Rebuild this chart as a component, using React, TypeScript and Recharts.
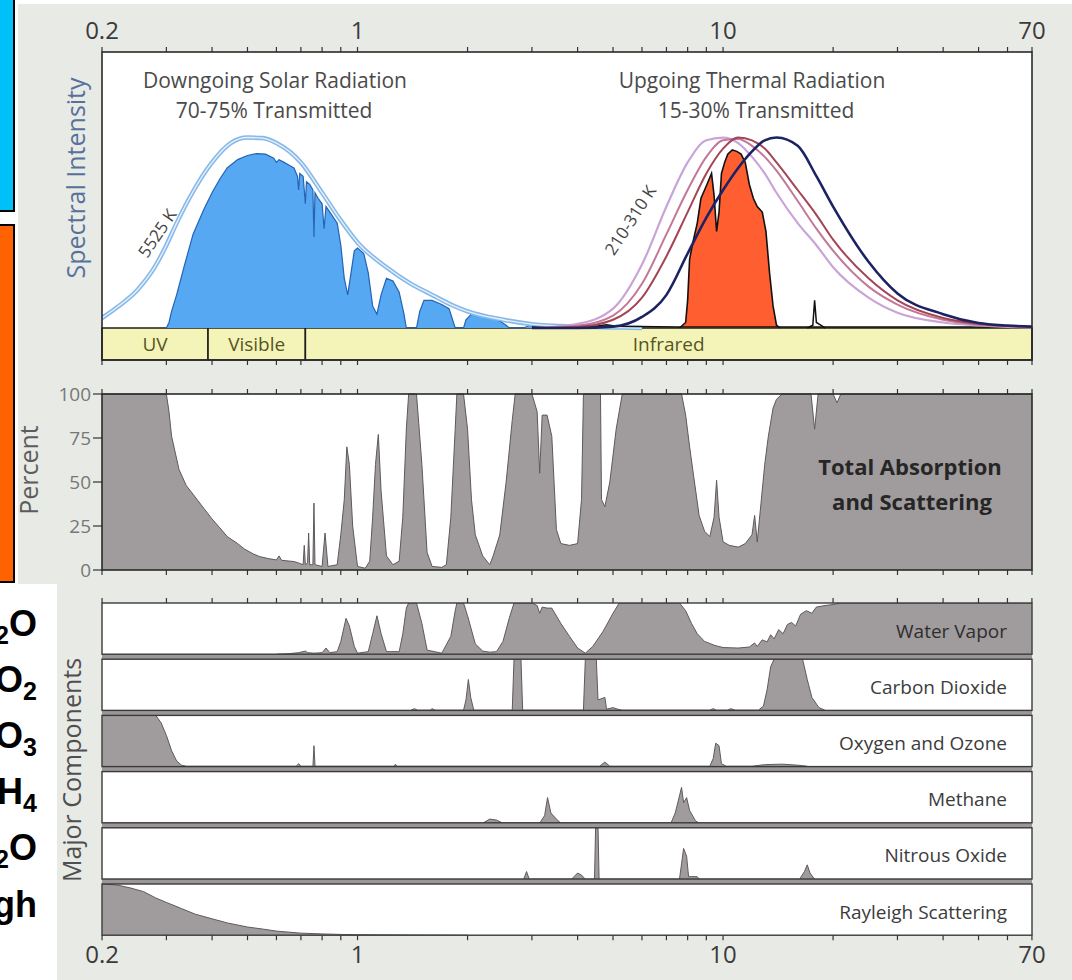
import React from 'react';
import { ComposedChart, Area, Line, XAxis, YAxis, ReferenceArea } from 'recharts';

const FONT = '"Open Sans", "DejaVu Sans", sans-serif';

// ---------- axis ticks ----------
const majorTicks = [0.2, 1, 10, 70];
const allTicks = [0.2, 0.3, 0.4, 0.5, 0.6, 0.7, 0.8, 0.9, 1, 2, 3, 4, 5, 6, 7, 8, 9, 10, 20, 30, 40, 50, 60, 70];
const percentTicks = [0, 25, 50, 75, 100];

// ---------- spectral bands ----------
const bands = [
  { name: 'UV', from: 0.2, to: 0.39 },
  { name: 'Visible', from: 0.39, to: 0.72 },
  { name: 'Infrared', from: 0.72, to: 70 },
];

// ---------- top panel: spectral intensity ----------
const blackbody5525: [number, number][] = [
  [0.2, 0.036], [0.22, 0.075], [0.25, 0.138], [0.28, 0.225], [0.3, 0.3], [0.32, 0.38], [0.35, 0.48],
  [0.4, 0.6], [0.45, 0.67], [0.5, 0.69], [0.55, 0.688], [0.6, 0.67], [0.7, 0.6], [0.8, 0.49], [0.9, 0.39],
  [1.0, 0.31], [1.2, 0.22], [1.4, 0.16], [1.6, 0.12], [1.8, 0.085], [2.0, 0.06], [2.5, 0.03], [3, 0.014],
  [4, 0.005], [5, 0.002], [6, 0],
];

const solarTransmitted: [number, number][] = [
  [0.3, 0], [0.305, 0.02], [0.31, 0.06], [0.32, 0.12], [0.335, 0.22], [0.355, 0.34], [0.38, 0.43], [0.4, 0.49],
  [0.42, 0.54], [0.44, 0.58], [0.47, 0.61], [0.5, 0.625], [0.53, 0.632], [0.56, 0.63], [0.59, 0.615], [0.6, 0.6],
  [0.61, 0.61], [0.63, 0.6], [0.65, 0.59], [0.67, 0.58], [0.685, 0.55], [0.69, 0.5], [0.695, 0.56], [0.71, 0.55],
  [0.72, 0.45], [0.725, 0.53], [0.74, 0.52], [0.755, 0.5], [0.76, 0.33], [0.765, 0.49], [0.78, 0.47], [0.8, 0.45],
  [0.81, 0.36], [0.82, 0.44], [0.85, 0.41], [0.88, 0.38], [0.9, 0.3], [0.92, 0.18], [0.94, 0.12], [0.96, 0.2],
  [0.98, 0.28], [1.0, 0.29], [1.04, 0.27], [1.07, 0.2], [1.1, 0.08], [1.13, 0.05], [1.16, 0.12], [1.2, 0.18],
  [1.25, 0.17], [1.3, 0.13], [1.34, 0.05], [1.36, 0], [1.45, 0], [1.48, 0.06], [1.52, 0.1], [1.6, 0.1],
  [1.7, 0.085], [1.78, 0.07], [1.82, 0.03], [1.85, 0], [1.95, 0], [1.98, 0.03], [2.05, 0.05], [2.15, 0.05],
  [2.3, 0.04], [2.45, 0.025], [2.55, 0.01], [2.6, 0], [2.85, 0], [2.95, 0.01], [3.2, 0.012], [3.5, 0.008],
  [4, 0.004], [5, 0.002], [6, 0],
];

const thermalWl = [3, 4, 5, 6, 7, 8, 9, 10, 11, 12, 13, 14, 16, 18, 20, 25, 30, 40, 50, 60, 70];
const thermal310 = [0, 0.015, 0.07, 0.23, 0.44, 0.6, 0.68, 0.69, 0.67, 0.62, 0.56, 0.49, 0.38, 0.3, 0.22, 0.11, 0.055, 0.02, 0.009, 0.004, 0.002];
const thermal280 = [0, 0.008, 0.045, 0.16, 0.34, 0.5, 0.62, 0.68, 0.685, 0.66, 0.62, 0.57, 0.46, 0.36, 0.28, 0.15, 0.085, 0.03, 0.012, 0.006, 0.003];
const thermal260 = [0, 0.004, 0.03, 0.11, 0.26, 0.42, 0.56, 0.65, 0.69, 0.68, 0.65, 0.6, 0.5, 0.41, 0.32, 0.18, 0.1, 0.036, 0.015, 0.007, 0.004];
const thermal210 = [0, 0, 0.005, 0.04, 0.12, 0.27, 0.4, 0.5, 0.58, 0.64, 0.68, 0.69, 0.66, 0.55, 0.44, 0.24, 0.125, 0.05, 0.018, 0.009, 0.005];

const thermalTransmitted: [number, number][] = [
  [7.6, 0], [7.9, 0.02], [8.0, 0.1], [8.1, 0.25], [8.3, 0.32], [8.5, 0.38], [8.7, 0.47], [8.9, 0.5], [9.1, 0.53],
  [9.3, 0.56], [9.45, 0.48], [9.6, 0.35], [9.75, 0.42], [9.9, 0.56], [10.1, 0.6], [10.3, 0.63], [10.6, 0.645],
  [10.9, 0.64], [11.2, 0.63], [11.5, 0.6], [11.8, 0.52], [12.1, 0.47], [12.4, 0.44], [12.8, 0.42], [13.1, 0.35],
  [13.4, 0.2], [13.7, 0.08], [14, 0.01], [14.3, 0],
];
const thermalSpike: [number, number][] = [[17, 0], [17.6, 0.01], [17.8, 0.1], [18, 0.02], [18.5, 0.01], [19, 0]];
const thermalBaseline: [number, number][] = [[3, 0.004], [4.5, 0.006], [4.8, 0.012], [5.1, 0.006], [7.6, 0.004], [14.3, 0.004], [70, 0.004]];

// ---------- middle panel: total absorption (percent) ----------
const totalAbsorption: [number, number][] = [
  [0.2, 100], [0.3, 100], [0.305, 90], [0.31, 76], [0.325, 57], [0.34, 48], [0.355, 43], [0.38, 35], [0.4, 29],
  [0.42, 24], [0.44, 19], [0.47, 15], [0.49, 12], [0.52, 9], [0.54, 7.6], [0.57, 6.5], [0.6, 5.7], [0.61, 8],
  [0.62, 5.5], [0.67, 4.8], [0.69, 4], [0.71, 3], [0.715, 14], [0.72, 3], [0.73, 4], [0.735, 21], [0.74, 3],
  [0.755, 3], [0.76, 38], [0.765, 3], [0.8, 2], [0.815, 21], [0.83, 2], [0.88, 3], [0.9, 20], [0.92, 40],
  [0.935, 70], [0.95, 60], [0.97, 25], [1.0, 2], [1.05, 1], [1.08, 5], [1.1, 30], [1.12, 60], [1.14, 77],
  [1.16, 45], [1.2, 8], [1.25, 3], [1.3, 5], [1.33, 30], [1.36, 80], [1.38, 100], [1.45, 100], [1.5, 60],
  [1.55, 10], [1.6, 2], [1.7, 1.5], [1.75, 3], [1.8, 30], [1.85, 80], [1.87, 100], [1.95, 100], [2.0, 80],
  [2.05, 40], [2.1, 20], [2.2, 8], [2.3, 3], [2.35, 8], [2.45, 20], [2.55, 50], [2.65, 85], [2.7, 100],
  [3.0, 100], [3.1, 90], [3.15, 55], [3.2, 88], [3.3, 88], [3.4, 76], [3.5, 23], [3.6, 15], [3.8, 14],
  [4.0, 15], [4.1, 40], [4.15, 100], [4.62, 100], [4.65, 40], [4.75, 36], [4.9, 50], [5.1, 80], [5.3, 100],
  [7.7, 100], [7.9, 88], [8.1, 70], [8.3, 54], [8.6, 31], [8.9, 22], [9.2, 19], [9.45, 30], [9.6, 51],
  [9.75, 30], [10.0, 16], [10.4, 14], [11.0, 13], [11.5, 15], [12.0, 20], [12.2, 31], [12.4, 16], [12.7, 38],
  [13.0, 60], [13.3, 76], [13.7, 92], [14.0, 97], [14.5, 100], [17.4, 100], [17.8, 80], [18.2, 100],
  [20, 100], [20.5, 95], [21, 100], [70, 100],
];

// ---------- bottom strips: major components (percent) ----------
const waterVapor: [number, number][] = [
  [0.6, 0], [0.65, 1], [0.69, 3], [0.72, 6], [0.73, 3], [0.76, 2], [0.8, 3], [0.82, 12], [0.84, 3], [0.88, 5],
  [0.9, 25], [0.93, 70], [0.95, 55], [0.98, 15], [1.0, 2], [1.07, 5], [1.1, 40], [1.13, 75], [1.16, 40],
  [1.2, 5], [1.3, 5], [1.33, 40], [1.36, 90], [1.38, 100], [1.45, 100], [1.5, 60], [1.55, 8], [1.7, 2],
  [1.8, 35], [1.85, 85], [1.87, 100], [1.95, 100], [2.0, 75], [2.1, 20], [2.2, 6], [2.3, 4], [2.4, 5],
  [2.5, 25], [2.6, 70], [2.68, 100], [3.0, 100], [3.1, 95], [3.15, 80], [3.2, 92], [3.3, 90], [3.4, 90],
  [3.6, 60], [3.8, 35], [4.0, 12], [4.2, 2], [4.4, 15], [4.7, 45], [5.0, 80], [5.2, 100], [7.6, 100],
  [7.9, 85], [8.2, 60], [8.5, 40], [8.9, 25], [9.5, 17], [10, 13], [11, 12], [11.8, 14], [12.2, 22],
  [12.4, 15], [12.8, 28], [13.2, 24], [13.5, 38], [13.8, 30], [14.2, 48], [14.6, 40], [15, 58], [15.4, 62],
  [15.8, 55], [16.3, 78], [16.9, 85], [17.5, 80], [18, 92], [19, 95], [20, 97], [21, 100], [70, 100],
];
const carbonDioxide: [number, number][] = [
  [1.4, 0], [1.43, 3], [1.46, 0], [1.58, 0], [1.6, 3], [1.63, 0], [1.95, 0], [1.98, 20], [2.01, 60], [2.04, 25],
  [2.08, 0], [2.65, 0], [2.68, 100], [2.8, 100], [2.83, 0], [4.15, 0], [4.2, 100], [4.5, 100], [4.55, 20],
  [4.75, 25], [4.8, 2], [5.0, 5], [5.15, 2], [5.3, 0], [9.2, 0], [9.4, 3], [9.6, 0], [10.3, 0], [10.5, 3],
  [10.8, 0], [12.5, 0], [12.9, 8], [13.2, 40], [13.5, 85], [13.8, 100], [16.5, 100], [17.0, 60], [17.5, 25],
  [18.3, 5], [19, 0],
];
const oxygenOzone: [number, number][] = [
  [0.2, 100], [0.28, 100], [0.29, 85], [0.3, 60], [0.31, 30], [0.32, 10], [0.33, 2], [0.34, 0], [0.68, 0],
  [0.69, 5], [0.7, 0], [0.755, 0], [0.76, 40], [0.765, 0], [1.26, 0], [1.27, 4], [1.28, 0], [4.6, 0],
  [4.75, 8], [4.9, 0], [9.2, 0], [9.4, 15], [9.55, 45], [9.75, 40], [9.9, 5], [10.2, 0], [12, 0], [13, 3],
  [14.5, 4], [16, 2], [17, 0],
];
const methane: [number, number][] = [
  [2.2, 0], [2.3, 8], [2.4, 6], [2.5, 0], [3.15, 0], [3.25, 15], [3.31, 50], [3.38, 20], [3.5, 8], [3.6, 0],
  [7.2, 0], [7.4, 20], [7.55, 45], [7.7, 70], [7.8, 40], [7.95, 50], [8.1, 25], [8.4, 5], [8.6, 0],
];
const nitrousOxide: [number, number][] = [
  [2.85, 0], [2.9, 15], [2.95, 0], [3.85, 0], [4.0, 12], [4.1, 8], [4.2, 0], [4.45, 0], [4.48, 100], [4.55, 100],
  [4.58, 0], [7.6, 0], [7.7, 30], [7.8, 60], [7.95, 45], [8.05, 5], [8.5, 5], [8.6, 0], [16.2, 0], [16.7, 15],
  [17, 28], [17.3, 12], [17.8, 0],
];
const rayleigh: [number, number][] = [
  [0.2, 100], [0.22, 98], [0.24, 92], [0.26, 85], [0.28, 73], [0.3, 64], [0.33, 52], [0.36, 41], [0.4, 32],
  [0.44, 24], [0.5, 16], [0.55, 12], [0.6, 8], [0.7, 4], [0.8, 2.5], [0.9, 1.5], [1, 1], [1.5, 0.3], [2, 0],
];

const strips = [
  { label: 'Water Vapor', data: waterVapor },
  { label: 'Carbon Dioxide', data: carbonDioxide },
  { label: 'Oxygen and Ozone', data: oxygenOzone },
  { label: 'Methane', data: methane },
  { label: 'Nitrous Oxide', data: nitrousOxide },
  { label: 'Rayleigh Scattering', data: rayleigh },
];

const leftLabels = [
  { main: 'H', sub: '2', tail: 'O' },
  { main: 'CO', sub: '2', tail: '' },
  { main: 'O', sub: '3', tail: '' },
  { main: 'CH', sub: '4', tail: '' },
  { main: 'N', sub: '2', tail: 'O' },
  { main: 'Rayleigh', sub: '', tail: '' },
];

// ---------- helpers ----------
const pts = (arr: [number, number][]) => arr.map(([x, y]) => ({ x, y }));
const grid = (wl: number[], v: number[]) => wl.map((x, i) => ({ x, y: v[i] }));
const fmtMajor = (v: number) => (majorTicks.includes(v) ? String(v) : '');
const fmtNone = () => '';

// layout
const W = 1072;
const PL = 102;
const PR = 1032;
const TOP_Y = 52;
const BASE_Y = 328;
const BAND_Y = 360;
const MID_TOP = 394;
const MID_BOT = 570;
const STRIP_TOP = 603;
const STRIP_H = 51.2;
const STRIP_GAP = 5;
const stripTop = (i: number) => STRIP_TOP + i * (STRIP_H + STRIP_GAP);
const Y_MIN = -(BAND_Y - BASE_Y) / (BASE_Y - TOP_Y);

const GRAY = '#a09b9c';
const tickStyle = { stroke: '#333', strokeWidth: 1.2 };

const xBase = {
  type: 'number' as const,
  dataKey: 'x',
  scale: 'log' as const,
  domain: [0.2, 70],
  allowDataOverflow: true,
  ticks: allTicks,
  interval: 0 as const,
  axisLine: false,
  tickLine: tickStyle,
  tickSize: 5,
};

function TopPanel() {
  return (
    <ComposedChart width={W} height={370} margin={{ top: 22, right: W - PR, bottom: 2, left: PL }}>
      <XAxis
        {...xBase}
        orientation="top"
        height={30}
        tickMargin={8}
        tickFormatter={fmtMajor}
        tick={{ fontSize: 24, fill: '#3a3a3a', fontFamily: FONT }}
      />
      <XAxis {...xBase} xAxisId="b" orientation="bottom" height={8} tickFormatter={fmtNone} tick={{ fontSize: 1 }} />
      <YAxis type="number" domain={[Y_MIN, 1]} hide allowDataOverflow />
      {bands.map((b) => (
        <ReferenceArea
          key={b.name}
          x1={b.from}
          x2={b.to}
          y1={Y_MIN}
          y2={0}
          fill="#f4f4b9"
          fillOpacity={1}
          stroke="#1e1e1e"
          strokeWidth={1.6}
          label={{ value: b.name, position: 'center', fill: '#56561f', fontSize: 19, fontFamily: FONT }}
        />
      ))}
      <Area
        data={pts(solarTransmitted)}
        dataKey="y"
        type="linear"
        baseValue={0}
        fill="#56a8f2"
        fillOpacity={1}
        stroke="#2463b5"
        strokeWidth={1.2}
        isAnimationActive={false}
      />
      <Line data={pts(blackbody5525)} dataKey="y" type="monotone" stroke="#86b8e8" strokeWidth={4.5} dot={false} isAnimationActive={false} />
      <Line data={pts(blackbody5525)} dataKey="y" type="monotone" stroke="#e4f1fc" strokeWidth={1.4} dot={false} isAnimationActive={false} />
      <Line data={pts(thermalBaseline)} dataKey="y" type="linear" stroke="#111" strokeWidth={1.5} dot={false} isAnimationActive={false} />
      <Area
        data={pts(thermalTransmitted)}
        dataKey="y"
        type="linear"
        baseValue={0}
        fill="#ff5f30"
        fillOpacity={1}
        stroke="#111"
        strokeWidth={1.6}
        isAnimationActive={false}
      />
      <Line data={pts(thermalSpike)} dataKey="y" type="linear" stroke="#111" strokeWidth={1.5} dot={false} isAnimationActive={false} />
      <Line data={grid(thermalWl, thermal310)} dataKey="y" type="monotone" stroke="#c9a4d8" strokeWidth={2.2} dot={false} isAnimationActive={false} />
      <Line data={grid(thermalWl, thermal280)} dataKey="y" type="monotone" stroke="#c27896" strokeWidth={2} dot={false} isAnimationActive={false} />
      <Line data={grid(thermalWl, thermal260)} dataKey="y" type="monotone" stroke="#a44556" strokeWidth={2} dot={false} isAnimationActive={false} />
      <Line data={grid(thermalWl, thermal210)} dataKey="y" type="monotone" stroke="#1c2363" strokeWidth={2.6} dot={false} isAnimationActive={false} />
    </ComposedChart>
  );
}

function MiddlePanel() {
  return (
    <ComposedChart width={W} height={220} margin={{ top: 16, right: W - PR - 10, bottom: 12, left: PL - 45 }}>
      <XAxis {...xBase} orientation="bottom" height={8} tickFormatter={fmtNone} tick={{ fontSize: 1 }} />
      <XAxis {...xBase} xAxisId="t" orientation="top" height={8} tickFormatter={fmtNone} tick={{ fontSize: 1 }} />
      <YAxis
        type="number"
        domain={[0, 100]}
        ticks={percentTicks}
        interval={0}
        width={45}
        tickSize={9}
        tickMargin={2}
        axisLine={false}
        tickLine={tickStyle}
        tick={{ fontSize: 19, fill: '#777', fontFamily: FONT }}
      />
      <YAxis
        yAxisId="r"
        orientation="right"
        type="number"
        domain={[0, 100]}
        ticks={percentTicks}
        interval={0}
        width={10}
        tickSize={5}
        axisLine={false}
        tickLine={tickStyle}
        tickFormatter={fmtNone}
        tick={{ fontSize: 1 }}
      />
      <Area
        data={pts(totalAbsorption)}
        dataKey="y"
        type="linear"
        baseValue={0}
        fill={GRAY}
        fillOpacity={1}
        stroke="#5e595a"
        strokeWidth={1}
        isAnimationActive={false}
      />
    </ComposedChart>
  );
}

function StripPanel({ index, data }: { index: number; data: [number, number][] }) {
  const first = index === 0;
  const last = index === strips.length - 1;
  const mTop = first ? 2 : 10;
  const axisTop = first ? 8 : 0;
  const bottomAxis = last ? 40 : 0;
  const mBottom = last ? 2 : 10;
  const height = mTop + axisTop + STRIP_H + bottomAxis + mBottom;
  return (
    <ComposedChart width={W} height={height} margin={{ top: mTop, right: W - PR, bottom: mBottom, left: PL }}>
      {last ? (
        <XAxis
          {...xBase}
          orientation="bottom"
          height={40}
          tickMargin={6}
          tickFormatter={fmtMajor}
          tick={{ fontSize: 24, fill: '#3a3a3a', fontFamily: FONT }}
        />
      ) : first ? (
        <XAxis {...xBase} orientation="top" height={8} tickFormatter={fmtNone} tick={{ fontSize: 1 }} />
      ) : (
        <XAxis {...xBase} hide />
      )}
      <YAxis type="number" domain={[0, 100]} hide allowDataOverflow />
      <Area
        data={pts(data)}
        dataKey="y"
        type="linear"
        baseValue={0}
        fill={GRAY}
        fillOpacity={1}
        stroke="#5e595a"
        strokeWidth={1}
        isAnimationActive={false}
      />
    </ComposedChart>
  );
}

export default function App() {
  const abs = (left: number, top: number): React.CSSProperties => ({ position: 'absolute', left, top });
  return (
    <div style={{ position: 'absolute', left: 0, top: 0, width: W, height: 980, background: '#fff', overflow: 'hidden', fontFamily: FONT }}>
      <div style={{ position: 'absolute', left: 18, top: 4, right: 0, bottom: 0, background: '#e8eae6' }} />
      <div style={{ position: 'absolute', left: 0, top: 584, width: 57, height: 396, background: '#fff' }} />
      <div style={{ position: 'absolute', left: 0, top: 0, width: 13, height: 210, background: '#00c0f8', borderRight: '2px solid #000', borderBottom: '2px solid #000' }} />
      <div style={{ position: 'absolute', left: 0, top: 224, width: 13, height: 355, background: '#ff6200', border: '2px solid #000', borderLeft: 'none' }} />

      {/* plot backgrounds */}
      <div style={{ position: 'absolute', left: PL, top: TOP_Y, width: PR - PL, height: BAND_Y - TOP_Y, background: '#fff' }} />
      <div style={{ position: 'absolute', left: PL, top: MID_TOP, width: PR - PL, height: MID_BOT - MID_TOP, background: '#fff' }} />
      <div style={{ position: 'absolute', left: PL, top: STRIP_TOP, width: PR - PL, height: stripTop(5) + STRIP_H - STRIP_TOP, background: '#fff' }} />

      <div style={abs(0, 0)}>
        <TopPanel />
      </div>
      <div style={abs(0, MID_TOP - 24)}>
        <MiddlePanel />
      </div>
      {strips.map((s, i) => (
        <div key={s.label} style={abs(0, stripTop(i) - 10)}>
          <StripPanel index={i} data={s.data} />
        </div>
      ))}

      <svg width={W} height={980} style={{ position: 'absolute', left: 0, top: 0, pointerEvents: 'none' }} fontFamily={FONT}>
        {/* frames */}
        <rect x={PL} y={TOP_Y} width={PR - PL} height={BAND_Y - TOP_Y} fill="none" stroke="#2a2a2a" strokeWidth={1.6} />
        <rect x={PL} y={MID_TOP} width={PR - PL} height={MID_BOT - MID_TOP} fill="none" stroke="#2a2a2a" strokeWidth={1.6} />
        {strips.slice(0, -1).map((s, i) => (
          <rect key={'sep' + i} x={PL} y={stripTop(i) + STRIP_H} width={PR - PL} height={STRIP_GAP} fill="#9b9798" />
        ))}
        {strips.map((s, i) => (
          <rect key={'fr' + i} x={PL} y={stripTop(i)} width={PR - PL} height={STRIP_H} fill="none" stroke="#3a3a3a" strokeWidth={1.4} />
        ))}

        {/* top panel annotations */}
        <g fill="#4a4a4a" fontSize={21} textAnchor="middle">
          <text x={275} y={88}>Downgoing Solar Radiation</text>
          <text x={274} y={118}>70-75% Transmitted</text>
          <text x={752} y={88}>Upgoing Thermal Radiation</text>
          <text x={756} y={118}>15-30% Transmitted</text>
        </g>
        <text x={157} y={233} fontSize={17} fill="#444" textAnchor="middle" dominantBaseline="central" transform="rotate(-56 157 233)">
          5525 K
        </text>
        <text x={630} y={220} fontSize={17} fill="#444" textAnchor="middle" dominantBaseline="central" transform="rotate(-57 630 220)">
          210-310 K
        </text>

        {/* middle panel annotation */}
        <g fill="#262626" fontSize={22} fontWeight="bold" textAnchor="middle">
          <text x={910} y={475}>Total Absorption</text>
          <text x={912} y={510}>and Scattering</text>
        </g>

        {/* strip labels */}
        {strips.map((s, i) => (
          <text
            key={'lb' + i}
            x={1007}
            y={stripTop(i) + STRIP_H / 2 + 2}
            fontSize={19}
            fill={i === 0 ? '#2e2e2e' : '#3c3c3c'}
            textAnchor="end"
            dominantBaseline="central"
          >
            {s.label}
          </text>
        ))}

        {/* axis titles */}
        <text x={75} y={178} fontSize={25} fill="#56719a" textAnchor="middle" dominantBaseline="central" transform="rotate(-90 75 178)">
          Spectral Intensity
        </text>
        <text x={28} y={470} fontSize={25} fill="#5c5c5c" textAnchor="middle" dominantBaseline="central" transform="rotate(-90 28 470)">
          Percent
        </text>
        <text x={71} y={770} fontSize={25} fill="#4f4f4f" textAnchor="middle" dominantBaseline="central" transform="rotate(-90 71 770)">
          Major Components
        </text>

        {/* slide labels on the left, cropped by the picture's edge as in the reference */}
        {leftLabels.map((l, i) => (
          <text
            key={'ll' + i}
            x={37}
            y={stripTop(i) + STRIP_H / 2 + 7}
            fontFamily='"Liberation Sans", Arial, sans-serif'
            fontWeight="bold"
            fontSize={36}
            fill="#000"
            textAnchor="end"
          >
            {l.main}
            {l.sub ? (
              <tspan fontSize={25} dy={8}>
                {l.sub}
              </tspan>
            ) : null}
            {l.tail ? <tspan dy={l.sub ? -8 : 0}>{l.tail}</tspan> : null}
          </text>
        ))}
      </svg>
    </div>
  );
}
